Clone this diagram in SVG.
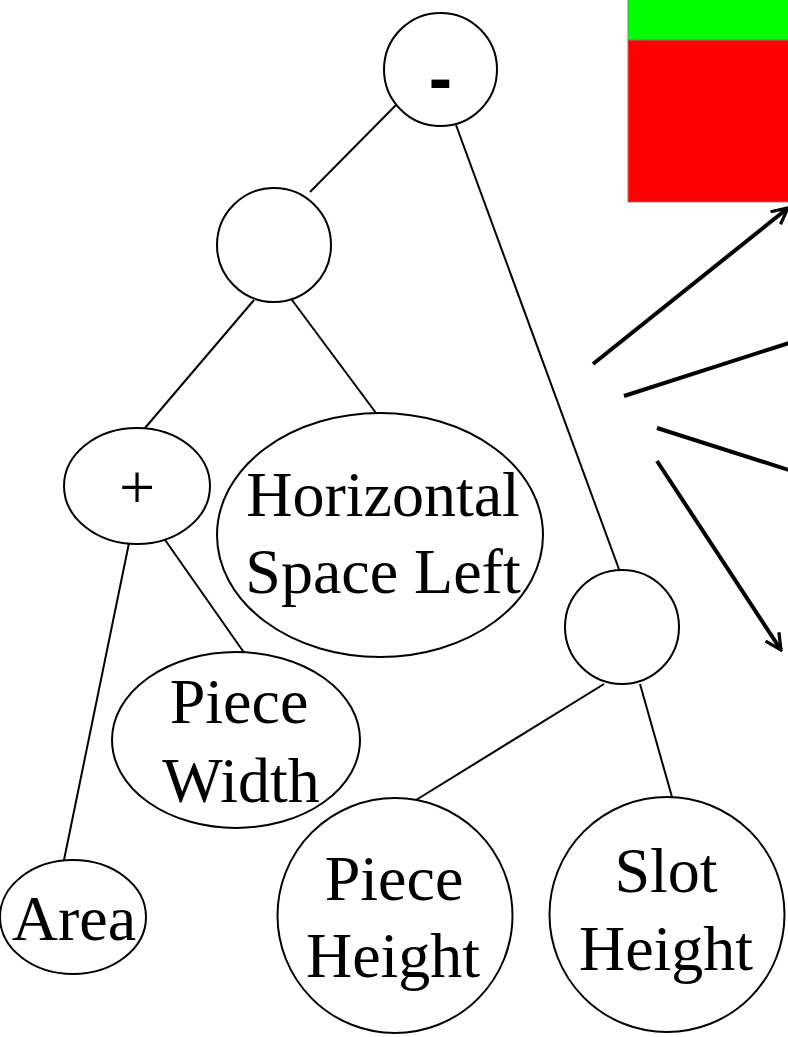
<svg xmlns="http://www.w3.org/2000/svg" width="788" height="1037" viewBox="0 0 788 1037">
  <style>
    .node { fill: #fff; stroke: #000; stroke-width: 2; }
    .edge { stroke: #000; stroke-width: 2; fill: none; }
    .ray { stroke: #000; stroke-width: 4; fill: none; stroke-linecap: butt; }
    .lbl { font-family: "Liberation Serif", "Times New Roman", serif; font-size: 64px; fill: #000; text-anchor: middle; }
    .op { font-family: "Liberation Sans", Arial, sans-serif; font-weight: bold; font-size: 70px; fill: #000; text-anchor: middle; }
  </style>
  <defs>
    <marker id="head" viewBox="0 0 10 10" refX="9" refY="5" markerWidth="5" markerHeight="5" orient="auto" markerUnits="strokeWidth">
      <path d="M1,1 L9,5 L1,9" fill="none" stroke="#000" stroke-width="1.6"/>
    </marker>
  </defs>
  <rect width="788" height="1037" fill="#fff"/>

  <!-- colour bar -->
  <g id="bar">
    <rect x="628" y="-2" width="164" height="42" fill="#00ff00" stroke="#808080" stroke-width="1"/>
    <rect x="628" y="40" width="164" height="162" fill="#ff0000" stroke="#808080" stroke-width="1"/>
  </g>

  <!-- tree edges and rays -->
  <g id="connectors">
    <line class="edge" x1="396" y1="105" x2="310" y2="192"/>
    <line class="edge" x1="456" y1="125" x2="620" y2="572"/>
    <line class="edge" x1="254" y1="300" x2="145" y2="428"/>
    <line class="edge" x1="292" y1="300" x2="376" y2="413"/>
    <line class="edge" x1="129" y1="543" x2="64" y2="860"/>
    <line class="edge" x1="163" y1="537" x2="245" y2="654"/>
    <line class="edge" x1="604" y1="684" x2="416" y2="800"/>
    <line class="edge" x1="640" y1="684" x2="672" y2="797"/>

    <line class="ray" x1="593" y1="364" x2="788" y2="208" marker-end="url(#head)"/>
    <line class="ray" x1="624" y1="396" x2="792" y2="342"/>
    <line class="ray" x1="657" y1="428" x2="792" y2="471"/>
    <line class="ray" x1="657" y1="461" x2="781" y2="650" marker-end="url(#head)"/>
  </g>

  <g id="minus">
    <circle class="node" cx="440.5" cy="69.5" r="56.5"/>
    <text class="op" x="440.5" y="102">-</text>
  </g>
  <g id="join-left">
    <circle class="node" cx="274" cy="245" r="57"/>
  </g>
  <g id="plus">
    <ellipse class="node" cx="137" cy="486" rx="73" ry="58"/>
    <text class="lbl" x="137" y="509">+</text>
  </g>
  <g id="horizontal-space-left">
    <ellipse class="node" cx="380" cy="535" rx="163" ry="122"/>
    <text class="lbl" x="383" y="516">Horizontal</text>
    <text class="lbl" x="383" y="593">Space Left</text>
  </g>
  <g id="piece-width">
    <ellipse class="node" cx="236" cy="740" rx="124" ry="88"/>
    <text class="lbl" x="239" y="723">Piece</text>
    <text class="lbl" x="241" y="802">Width</text>
  </g>
  <g id="area">
    <ellipse class="node" cx="73" cy="917" rx="73" ry="57"/>
    <text class="lbl" x="74" y="940">Area</text>
  </g>
  <g id="join-right">
    <circle class="node" cx="622" cy="627" r="57"/>
  </g>
  <g id="piece-height">
    <circle class="node" cx="395" cy="915.5" r="117.5"/>
    <text class="lbl" x="394" y="900">Piece</text>
    <text class="lbl" x="393" y="977">Height</text>
  </g>
  <g id="slot-height">
    <circle class="node" cx="667" cy="914.5" r="117.5"/>
    <text class="lbl" x="666" y="892">Slot</text>
    <text class="lbl" x="666" y="970">Height</text>
  </g>
</svg>
